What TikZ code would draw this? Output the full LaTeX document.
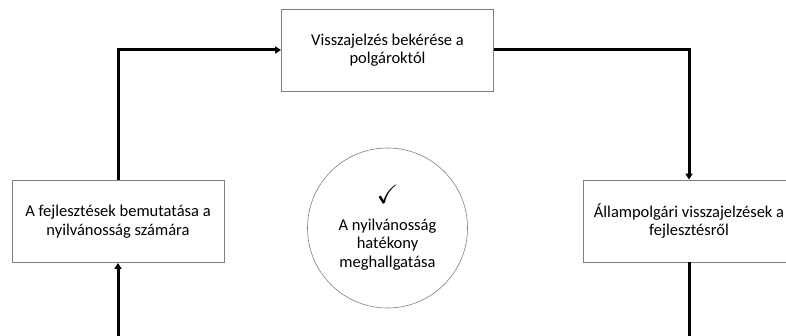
\documentclass[tikz,border=0pt]{standalone}
\usepackage{amssymb}
\usepackage{fontspec}
\setmainfont{Carlito}
\usetikzlibrary{arrows.meta}

\begin{document}
\begin{tikzpicture}[x=1pt, y=1pt,
        box/.style={draw=edgegrey, line width=0.8pt, minimum width=212pt, minimum height=82pt, align=center, inner sep=2pt, font=\fontsize{16.5}{18.5}\selectfont},
        hub/.style={draw=edgegrey, line width=0.6pt, circle, minimum size=160pt, align=center, inner sep=0pt, font=\fontsize{16.5}{18.5}\selectfont},
        flow/.style={-{Triangle[length=6pt, width=7pt]}, line width=3pt, black}]

        % Colour of the box outlines
        \definecolor{edgegrey}{HTML}{7F7F7F}

        % Fixed frame, same as the page
        \useasboundingbox (0,0) rectangle (786,336);
        \clip (0,0) rectangle (786,336);

        % === The three steps of the loop ===
        \node[box] (ask) at (387.5,286) {Visszajelzés bekérése a\\polgároktól};
        \node[box] (show) at (118,114.5) {A fejlesztések bemutatása a\\nyilvánosság számára};
        \node[box] (reply) at (689,115) {Állampolgári visszajelzések a\\fejlesztésről};

        % Circle in the middle
        \node[hub] (listen) at (387.5,108) {\scalebox{1.6}{$\checkmark$}\\[8pt]A nyilvánosság\\hatékony\\meghallgatása};

        % Loose ends at the lower edge
        \coordinate (showin) at (118,0);
        \coordinate (replyout) at (689,0);

        % === Connectors ===
        \draw[flow] (show.north) |- (ask.west);
        \draw[flow] (ask.east) -| (reply.north);
        \draw[flow] (showin) -- (show.south);
        \draw[line width=3pt] (reply.south) -- (replyout);

\end{tikzpicture}
\end{document}
